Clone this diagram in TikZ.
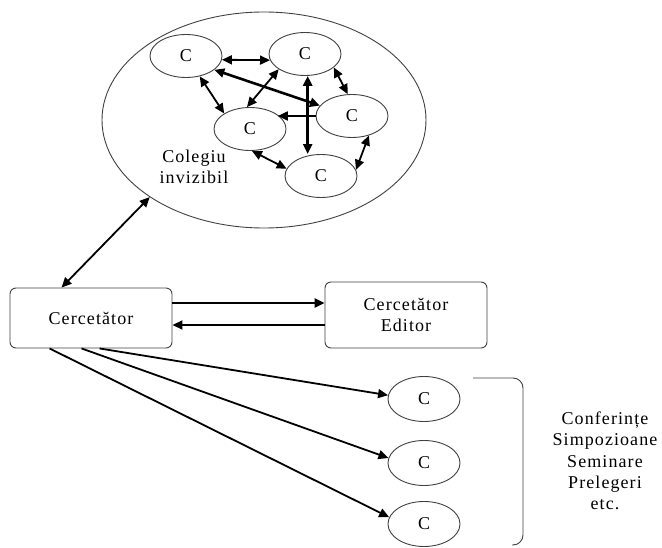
\documentclass[tikz,border=0pt]{standalone}
\usepackage{fontspec}
\setmainfont{Liberation Serif}[LetterSpace=6]
\usetikzlibrary{arrows.meta,shapes.geometric}
\begin{document}
\begin{tikzpicture}[x=1pt,y=-1pt,
  txt/.style={font=\fontsize{18pt}{21pt}\selectfont, text=black},
  outline/.style={draw=black!75, line width=0.9pt},
  peer/.style={outline, ellipse, inner sep=0pt, minimum width=72pt, minimum height=43pt, txt},
  box/.style={outline, rounded corners=6pt, inner sep=0pt, minimum width=162pt, txt, align=center},
  oneway/.style={-{Triangle[length=10pt,width=9pt]}},
  twoway/.style={{Triangle[length=10pt,width=9pt]}-{Triangle[length=10pt,width=9pt]}},
  link/.style={line width=1.8pt},
  strong/.style={line width=2.6pt},
]
\useasboundingbox (0,0) rectangle (662,548);

% the invisible college and its members
\node[outline, ellipse, inner sep=0pt, minimum width=324pt, minimum height=216pt] (coll) at (264,120) {};
\node[peer] (c1) at (186,56) {C};
\node[peer] (c2) at (305,54) {C};
\node[peer] (c3) at (352,116) {C};
\node[peer] (c4) at (250,129) {C};
\node[peer] (c5) at (321,176) {C};
\node[txt, align=center] (collname) at (194,167) {Colegiu\\invizibil};

% researcher and editor
\node[box, minimum height=60pt] (cerc) at (91,318) {Cercetător};
\node[box, minimum height=66pt] (ed) at (406,315) {Cercetător\\Editor};

% events
\node[peer, minimum height=45pt] (e1) at (424,399) {C};
\node[peer, minimum height=45pt] (e2) at (424,463) {C};
\node[peer, minimum height=45pt] (e3) at (424,524) {C};
\draw[outline, rounded corners=10pt] (473,378) -- (523,378) -- (523,545) -- (512,545);
\node[font=\fontsize{18pt}{21.3pt}\selectfont, align=center] (events) at (605,461)
  {Conferințe\\Simpozioane\\Seminare\\Prelegeri\\etc.};

% links inside the college
\draw[link,twoway] (c1.-6) -- (c2.190);
\draw[link,twoway] (c1.-56) -- (c4.149);
\draw[strong,twoway] (c1.-26) -- (c3.162);
\draw[link,twoway] (c2.210) -- (c4.98);
\draw[strong,twoway] (c2.-83) -- (c2.-83 |- c5.north);
\draw[link,twoway] (c2.-25) -- (c3.101);
\draw[link,oneway] (c3.west) -- (c3.west -| c4.27);
\draw[link,twoway] (c4.-85) -- (c5.168);
\draw[link,twoway] (c3.-49) -- (c5.10);

% researcher to college
\draw[link,twoway] ([xshift=52pt]cerc.north west) -- (coll.214);

% researcher and editor
\coordinate (fwd) at ([yshift=15pt]cerc.east);
\coordinate (back) at ([yshift=-7pt]cerc.east);
\draw[strong,oneway] (fwd) -- (fwd -| ed.west);
\draw[link,oneway] (back -| ed.west) -- (back);

% researcher to events
\draw[link,oneway] ([xshift=90pt]cerc.south west) -- (e1.174);
\draw[link,oneway] ([xshift=72pt]cerc.south west) -- (e2.172);
\draw[link,oneway] ([xshift=40pt]cerc.south west) -- (e3.169);
\end{tikzpicture}
\end{document}
